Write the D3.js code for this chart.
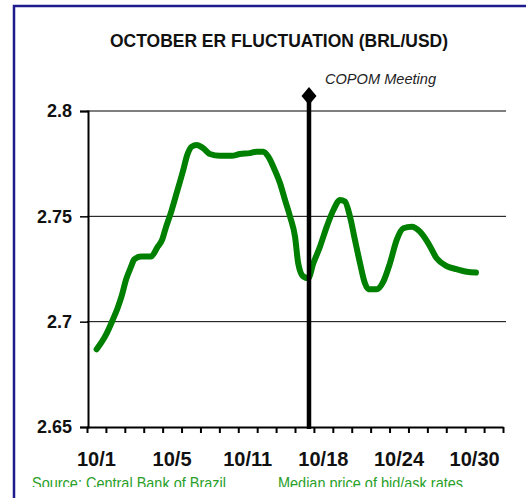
<!DOCTYPE html>
<html>
<head>
<meta charset="utf-8">
<script src="https://cdn.jsdelivr.net/npm/d3@7"></script>
<style>
  body { margin: 0; background: #fff; }
  svg { display: block; }
</style>
</head>
<body>
<div id="grafico"></div>
<script>
// Dados (posição em dias de pregão, taxa BRL/USD)
const posDia = [0.51, 1.0, 1.36, 1.62, 1.85, 2.06, 2.33, 2.5, 2.86, 3.38, 3.74, 3.97,
  4.13, 4.48, 4.74, 5.09, 5.3, 5.54, 5.8, 6.15, 6.5, 7.03, 7.65, 8.09, 8.62, 8.97,
  9.32, 9.59, 9.85, 10.21, 10.47, 10.74, 11.0, 11.17, 11.44, 11.7, 11.97, 12.32,
  12.68, 13.03, 13.38, 13.64, 13.91, 14.17, 14.44, 14.7, 14.88, 15.32, 15.67, 16.02,
  16.38, 16.73, 17.17, 17.61, 18.05, 18.49, 19.02, 19.55, 20.08, 20.57];
const taxa = [2.6869, 2.6937, 2.7008, 2.7065, 2.7127, 2.7198, 2.7261, 2.7296, 2.7309,
  2.7309, 2.7356, 2.7388, 2.7435, 2.753, 2.761, 2.772, 2.7791, 2.7831, 2.7839, 2.7823,
  2.7796, 2.7787, 2.7787, 2.7796, 2.78, 2.7807, 2.7807, 2.7783, 2.7736, 2.7657, 2.7578,
  2.7498, 2.7404, 2.7277, 2.7214, 2.7206, 2.7277, 2.7356, 2.7451, 2.753, 2.7578,
  2.757, 2.7498, 2.7388, 2.7277, 2.7182, 2.7154, 2.7154, 2.719, 2.7277, 2.7388,
  2.7443, 2.7451, 2.7427, 2.7372, 2.7301, 2.7264, 2.7249, 2.7237, 2.7233];

const numDias = 22;
const rotulosX = ["10/1", "10/5", "10/11", "10/18", "10/24", "10/30"];
const diasRotulos = [0, 4, 8, 12, 16, 20];
const ticksY = [2.65, 2.7, 2.75, 2.8];
const posCopom = 11.74;

const largura = 526, altura = 498;
const svg = d3.select("#grafico").append("svg")
  .attr("width", largura)
  .attr("height", altura);

// moldura azul
svg.append("rect")
  .attr("x", 14).attr("y", 6)
  .attr("width", 600).attr("height", 600)
  .attr("fill", "none")
  .attr("stroke", "#1c1c8f")
  .attr("stroke-width", 2.5);

// escalas
const eixoX = d3.scaleLinear().domain([0, numDias]).range([87, 503]);
const eixoY = d3.scaleLinear().domain([2.65, 2.8]).range([427, 111]);

// título (fonte estreita simulada com textLength)
svg.append("text")
  .attr("x", 110).attr("y", 47)
  .attr("textLength", 338)
  .attr("lengthAdjust", "spacingAndGlyphs")
  .attr("font-family", "'Liberation Sans', Arial, sans-serif")
  .attr("font-weight", "bold")
  .attr("font-size", 19)
  .attr("fill", "#111")
  .text("OCTOBER ER FLUCTUATION (BRL/USD)");

// linhas de grade
svg.append("g").selectAll("line")
  .data(ticksY.filter(d => d > 2.65))
  .join("line")
  .attr("x1", eixoX(0)).attr("x2", 506)
  .attr("y1", d => eixoY(d)).attr("y2", d => eixoY(d))
  .attr("stroke", "#000").attr("stroke-width", 1);

// eixo Y
const gY = svg.append("g").attr("transform", `translate(${eixoX(0) + 1},0)`)
  .call(d3.axisLeft(eixoY).tickValues(ticksY).tickFormat(d3.format("")).tickSize(8).tickPadding(8));
gY.select(".domain").attr("stroke-width", 2);
gY.selectAll(".tick line").attr("stroke-width", 1.5);
gY.selectAll("text")
  .attr("font-family", "'Liberation Sans', Arial, sans-serif")
  .attr("font-weight", "bold")
  .attr("font-size", 18)
  .attr("fill", "#111");

// eixo X
const gX = svg.append("g").attr("transform", `translate(0,${eixoY(2.65)})`)
  .call(d3.axisBottom(eixoX).tickValues(d3.range(numDias + 1)).tickFormat("").tickSize(6).tickSizeOuter(0));
gX.select(".domain").attr("stroke-width", 2);
gX.selectAll(".tick line").attr("stroke-width", 2);

svg.append("g").selectAll("text")
  .data(rotulosX)
  .join("text")
  .attr("x", (d, i) => eixoX(diasRotulos[i] + 0.5))
  .attr("y", 466)
  .attr("text-anchor", "middle")
  .attr("font-family", "'Liberation Sans', Arial, sans-serif")
  .attr("font-weight", "bold")
  .attr("font-size", 20)
  .attr("fill", "#111")
  .text(d => d);

// linha da taxa
const linha = d3.line()
  .x((d, i) => eixoX(posDia[i]))
  .y(d => eixoY(d))
  .curve(d3.curveMonotoneX);
svg.append("path")
  .datum(taxa)
  .attr("d", linha)
  .attr("fill", "none")
  .attr("stroke", "#008000")
  .attr("stroke-width", 6)
  .attr("stroke-linejoin", "round")
  .attr("stroke-linecap", "round");

// reunião do COPOM
const xc = eixoX(posCopom);
svg.append("line")
  .attr("x1", xc).attr("x2", xc)
  .attr("y1", 96).attr("y2", eixoY(2.65) + 2)
  .attr("stroke", "#000").attr("stroke-width", 4.5);
svg.append("path")
  .attr("d", `M${xc},87 L${xc + 7.5},96 L${xc},105 L${xc - 7.5},96 Z`)
  .attr("fill", "#000");
svg.append("text")
  .attr("x", 325).attr("y", 84)
  .attr("textLength", 111)
  .attr("lengthAdjust", "spacingAndGlyphs")
  .attr("font-family", "'Liberation Sans', Arial, sans-serif")
  .attr("font-style", "italic")
  .attr("font-size", 15)
  .attr("fill", "#222")
  .text("COPOM Meeting");

// fonte (cortada embaixo)
svg.append("clipPath").attr("id", "corte")
  .append("rect").attr("x", 0).attr("y", 0).attr("width", largura).attr("height", 487);
const notas = svg.append("g").attr("clip-path", "url(#corte)")
  .attr("font-family", "'Liberation Sans', Arial, sans-serif")
  .attr("font-size", 17)
  .attr("lengthAdjust", "spacingAndGlyphs")
  .attr("fill", "#2aa02a");
notas.append("text").attr("x", 32).attr("y", 489)
  .attr("textLength", 194).attr("lengthAdjust", "spacingAndGlyphs")
  .text("Source: Central Bank of Brazil");
notas.append("text").attr("x", 278).attr("y", 489)
  .attr("textLength", 185).attr("lengthAdjust", "spacingAndGlyphs")
  .text("Median price of bid/ask rates");
</script>
</body>
</html>
